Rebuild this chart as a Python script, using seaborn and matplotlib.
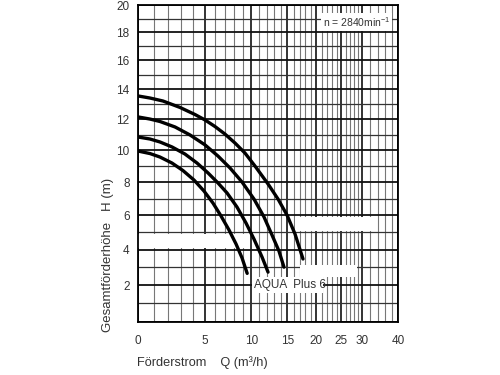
# pump curve AQUA Plus 6

import numpy as np
import pandas as pd
import matplotlib
matplotlib.use('Agg')
import matplotlib.pyplot as plt
import seaborn as sns
from matplotlib.patches import Rectangle

# Curve data (Q in m3/h, H in m)
q1 = [0, 0.75, 1.63, 2.9, 4.14, 5.04, 5.99, 7.0, 8.09, 9.24, 10.47, 12.19, 13.61, 14.97, 16.24, 17.58]
h1 = [13.56, 13.42, 13.22, 12.79, 12.32, 11.96, 11.53, 11.04, 10.46, 9.82, 9.0, 7.89, 6.97, 6.01, 4.9, 3.46]
q2 = [0, 0.75, 1.42, 2.52, 3.72, 5.04, 6.29, 7.54, 8.89, 10.34, 11.64, 12.74, 13.75, 14.5]
h2 = [12.16, 12.02, 11.86, 11.5, 10.98, 10.34, 9.63, 8.88, 8.01, 6.97, 5.9, 4.84, 3.91, 3.0]
q3 = [0, 0.75, 1.42, 2.29, 3.3, 4.32, 5.32, 6.29, 7.22, 8.31, 9.36, 10.34, 11.38, 12.19]
h3 = [10.85, 10.72, 10.53, 10.21, 9.76, 9.19, 8.57, 7.95, 7.34, 6.49, 5.54, 4.6, 3.57, 2.72]
q4 = [0, 0.75, 1.42, 2.29, 3.14, 4.06, 4.94, 5.79, 6.59, 7.43, 8.2, 8.89, 9.5]
h4 = [9.95, 9.79, 9.57, 9.19, 8.72, 8.13, 7.46, 6.73, 5.96, 5.13, 4.32, 3.52, 2.65]

x_ticks = [0, 5, 10, 15, 20, 25, 30, 40]
y_ticks = [0, 2, 4, 6, 8, 10, 12, 14, 16, 18, 20]

curves = pd.concat([
    pd.DataFrame({'Q': q, 'H': h, 'curve': i})
    for i, (q, h) in enumerate([(q1, h1), (q2, h2), (q3, h3), (q4, h4)])
])

sns.set_style('white')
plt.rcParams['font.family'] = ['Liberation Sans', 'DejaVu Sans']
plt.rcParams['mathtext.default'] = 'regular'

fig = plt.figure(figsize=(5, 3.75), dpi=100)
ax = fig.add_axes([0.276, 0.1413, 0.52, 0.8453])

# Draw curves
sns.lineplot(data=curves, x='Q', y='H', units='curve', estimator=None,
             sort=False, color='black', linewidth=2.4, ax=ax, zorder=3)

# Chart uses compressed (non-linear) axes
ax.set_xscale('function', functions=(lambda x: np.log1p(np.asarray(x) / 9.5),
                                     lambda y: 9.5 * np.expm1(y)))
ax.set_yscale('function', functions=(lambda x: np.log1p(np.asarray(x) / 50),
                                     lambda y: 50 * np.expm1(y)))
ax.set_xlim(0, 40)
ax.set_ylim(0, 20)

ax.set_xticks(x_ticks)
ax.set_xticklabels([str(t) for t in x_ticks])
ax.set_xticks(list(range(0, 30)) + [32, 34, 36, 38], minor=True)
ax.set_yticks(y_ticks)
ax.set_yticklabels([''] + [str(t) for t in y_ticks[1:]])
ax.set_yticks(range(0, 21), minor=True)

ax.tick_params(axis='x', which='both', length=0, pad=9, labelsize=8.5, labelcolor='#333333')
ax.tick_params(axis='y', which='major', length=4, width=1, direction='out', color='black',
               pad=2, labelsize=8.5, labelcolor='#333333')
ax.tick_params(axis='y', which='minor', length=0)

ax.set_axisbelow(True)
ax.grid(axis='x', which='major', color='#111111', linewidth=1.2)
ax.grid(axis='x', which='minor', color='#777777', linewidth=0.8)
ax.grid(axis='y', which='major', color='#111111', linewidth=1.3)
ax.grid(axis='y', which='minor', color='#333333', linewidth=0.9)

for s in ax.spines.values():
    s.set_color('black')
    s.set_linewidth(1.3)

ax.set_xlabel('')
ax.set_ylabel('')

# white masks from the original scan
for (x0, x1, y0, y1) in [(0, 9.8, 4.1, 4.9), (16.2, 32.5, 5.1, 5.9),
                         (10.1, 21.3, 1.55, 2.45), (17.1, 28.7, 2.45, 3.12)]:
    ax.add_patch(Rectangle((x0, y0), x1 - x0, y1 - y0, facecolor='white',
                           edgecolor='none', zorder=1.5))

ax.text(10.4, 2.0, 'AQUA  Plus 6', fontsize=8.5, color='#333333', va='center', ha='left', zorder=2)
ax.text(37.6, 18.75, 'n = 2840min$^{-1}$', fontsize=7.5, color='#333333', va='center', ha='right',
        zorder=2, bbox=dict(facecolor='white', edgecolor='none', pad=1.5))

fig.text(108 / 500, 1 - 255 / 375, 'Gesamtförderhöhe   H (m)', rotation=90,
         ha='center', va='center', fontsize=9.5, color='#333333')
fig.text(137 / 500, 1 - 363 / 375, 'Förderstrom    Q (m³/h)',
         ha='left', va='center', fontsize=9.2, color='#333333')

plt.savefig('out.png', dpi=100)
